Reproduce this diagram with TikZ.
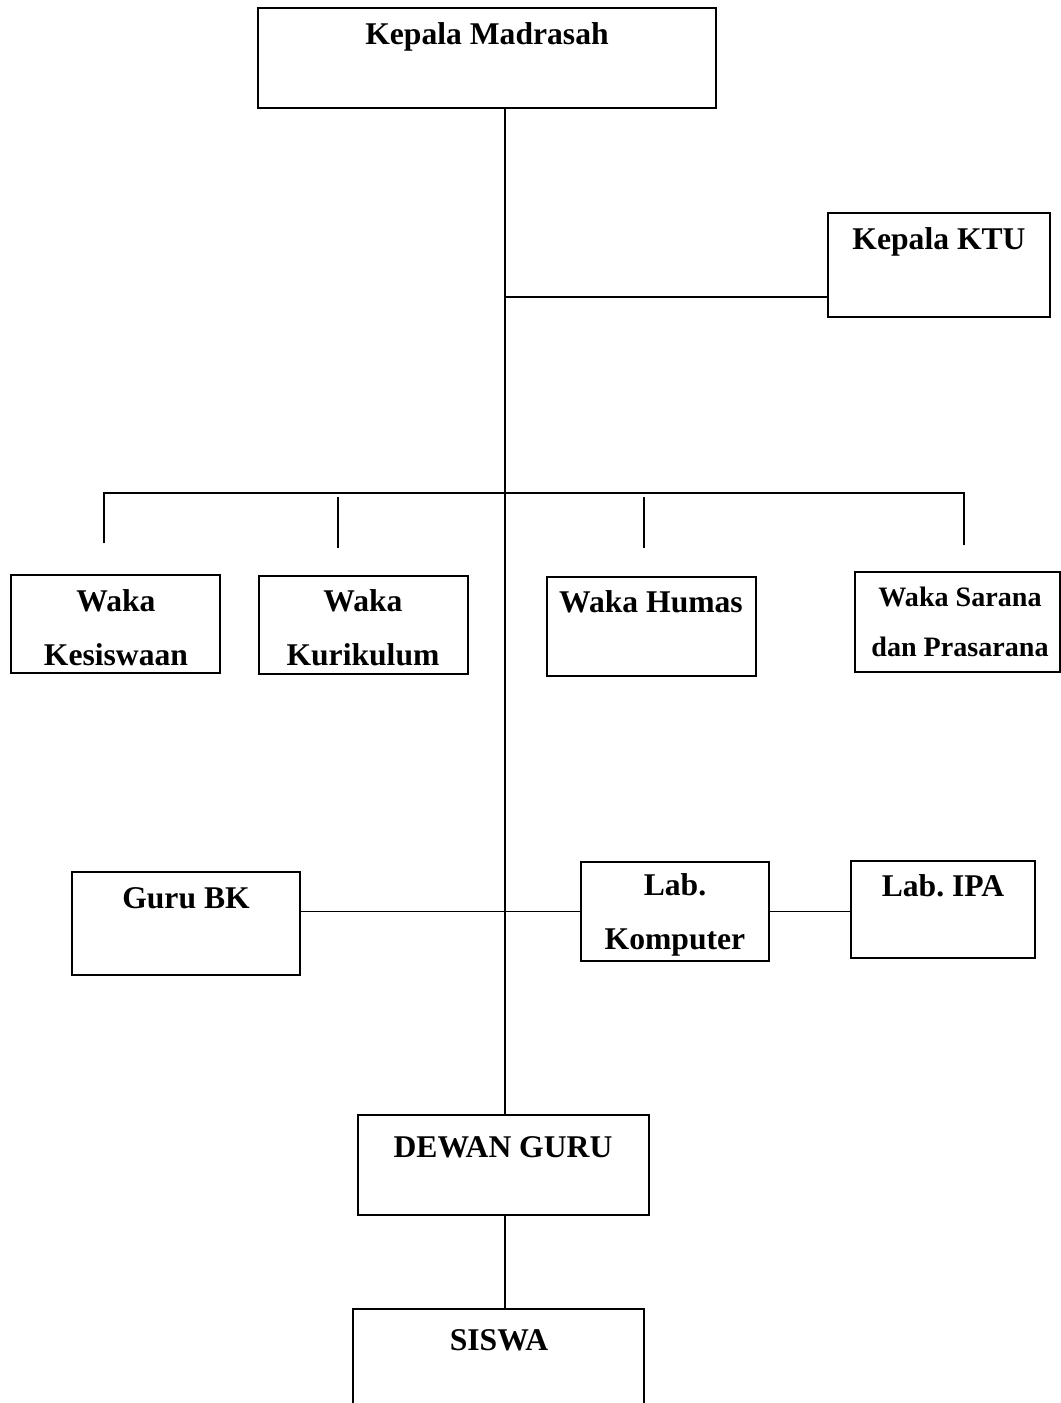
\documentclass[tikz,border=0pt]{standalone}
\usepackage{fontspec}
\setmainfont{Liberation Serif}
\frenchspacing
\begin{document}
\begin{tikzpicture}[
  x=0.02cm, y=-0.02cm,
  unit/.style={draw, line width=1.1pt, inner sep=0pt, outer sep=0pt},
  lbl/.style={font=\bfseries\fontsize{18}{31}\selectfont, align=center, inner sep=0pt},
  small/.style={font=\bfseries\fontsize{16}{28.5}\selectfont},
  conn/.style={line width=1.1pt}
]
\clip (0,0) rectangle (1061,1403);
% boxes
\node[unit, minimum width=9.16cm, minimum height=2.00cm] (kepala) at (487,58) {};
\node[unit, minimum width=4.44cm, minimum height=2.08cm] (ktu) at (939,265) {};
\node[unit, minimum width=4.18cm, minimum height=1.96cm] (kesiswaan) at (115.5,624) {};
\node[unit, minimum width=4.18cm, minimum height=1.96cm] (kurikulum) at (363.5,625) {};
\node[unit, minimum width=4.18cm, minimum height=1.98cm] (humas) at (651.5,626.5) {};
\node[unit, minimum width=4.10cm, minimum height=2.00cm] (sarana) at (957.5,622) {};
\node[unit, minimum width=4.56cm, minimum height=2.06cm] (gurubk) at (186,923.5) {};
\node[unit, minimum width=3.76cm, minimum height=1.98cm] (labkom) at (675,911.5) {};
\node[unit, minimum width=3.68cm, minimum height=1.94cm] (labipa) at (943,909.5) {};
\node[unit, minimum width=5.82cm, minimum height=2.00cm] (dewan) at (503.5,1165) {};
\node[unit, minimum width=5.82cm, minimum height=2.40cm] (siswa) at (498.5,1369) {};
% texts
\node[lbl] (kepalaT) at (487,37) {Kepala Madrasah};
\node[lbl] (ktuT) at (939,242) {Kepala KTU};
\node[lbl] (kesiswaanT) at (116,627.5) {Waka\\Kesiswaan};
\node[lbl] (kurikulumT) at (363,627.5) {Waka\\Kurikulum};
\node[lbl] (humasT) at (651,602) {Waka Humas};
\node[lbl, small] (saranaT) at (960,622) {Waka Sarana\\dan Prasarana};
\node[lbl] (gurubkT) at (186,898) {Guru BK};
\node[lbl] (labkomT) at (675,915) {Lab.\\Komputer};
\node[lbl] (labipaT) at (943,886) {Lab. IPA};
\node[lbl] (dewanT) at (503,1147) {DEWAN GURU};
\node[lbl] (siswaT) at (499,1340) {SISWA};
% junctions
\coordinate (ktuj) at (505,297);
\coordinate (barL) at (104,493);
\coordinate (barR) at (964,493);
\coordinate (dropA) at (104,543);
\coordinate (dropB) at (338,548);
\coordinate (dropC) at (644,548);
\coordinate (dropD) at (964,545);
% lines
\draw[conn] (kepala.south -| ktuj) -- (ktuj |- dewan.north);
\draw[conn] (ktuj) -- (ktuj -| ktu.west);
\draw[conn] (dropA) -- (barL) -- (barR) -- (dropD);
\draw[conn] (dropB) -- (dropB |- 497,497);
\draw[conn] (dropC) -- (dropC |- 497,497);
\draw[conn] (gurubk.east |- labkom.west) -- (labkom.west);
\draw[conn] (labkom.east) -- (labkom.east -| labipa.west);
\draw[conn] (dewan.south -| ktuj) -- (siswa.north -| ktuj);
\end{tikzpicture}
\end{document}
